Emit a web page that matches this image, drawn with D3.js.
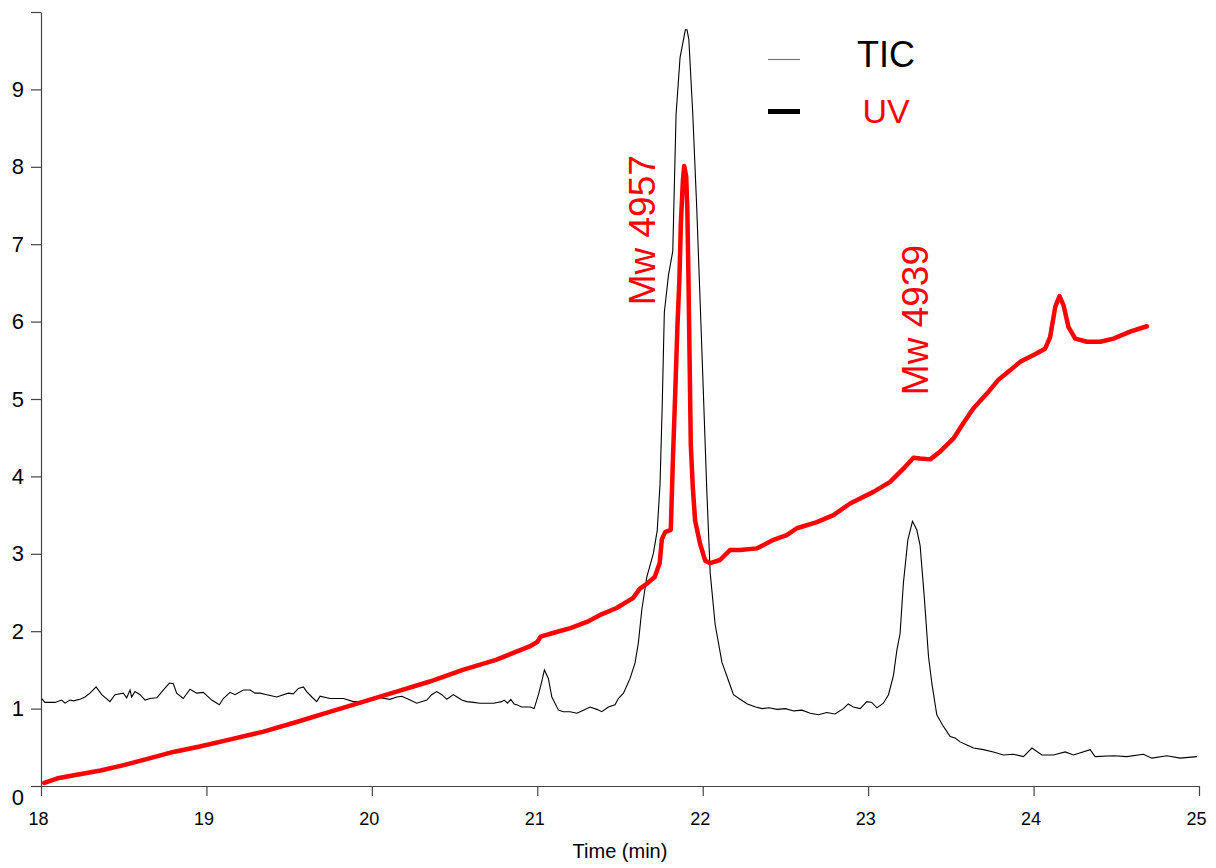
<!DOCTYPE html>
<html>
<head>
<meta charset="utf-8">
<script src="https://cdn.jsdelivr.net/npm/d3@7"></script>
<style>
  body { margin: 0; background: #fff; }
  text { font-family: Arial, "Liberation Sans", sans-serif; }
</style>
</head>
<body>
<div id="vis-container"></div>
<script>
// TIC trace (time in min, signal)
ticTime = [18.004,18.024,18.054,18.085,18.125,18.145,18.175,18.195,18.236,18.266,18.296,18.333,18.367,18.417,18.447,18.498,18.518,18.538,18.548,18.568,18.599,18.629,18.659,18.700,18.739,18.776,18.800,18.820,18.860,18.901,18.941,18.981,19.032,19.078,19.102,19.143,19.173,19.223,19.264,19.294,19.324,19.365,19.425,19.495,19.525,19.556,19.586,19.606,19.637,19.667,19.687,19.747,19.797,19.828,19.888,19.929,19.989,20.050,20.110,20.151,20.181,20.231,20.271,20.332,20.362,20.392,20.423,20.453,20.493,20.544,20.574,20.614,20.654,20.695,20.735,20.785,20.800,20.820,20.840,20.860,20.876,20.906,20.956,20.981,21.007,21.027,21.043,21.067,21.088,21.128,21.158,21.198,21.239,21.279,21.319,21.360,21.390,21.430,21.470,21.490,21.521,21.561,21.591,21.611,21.632,21.662,21.702,21.725,21.742,21.755,21.768,21.793,21.819,21.839,21.863,21.895,21.905,21.916,21.940,21.964,21.995,22.025,22.045,22.075,22.116,22.156,22.186,22.226,22.270,22.320,22.360,22.400,22.450,22.500,22.550,22.600,22.650,22.700,22.750,22.800,22.850,22.880,22.910,22.952,22.992,23.022,23.053,23.092,23.123,23.153,23.174,23.193,23.213,23.240,23.268,23.294,23.314,23.339,23.365,23.385,23.415,23.455,23.496,23.526,23.556,23.597,23.637,23.697,23.757,23.818,23.878,23.939,23.990,24.050,24.120,24.191,24.241,24.342,24.372,24.483,24.564,24.664,24.715,24.806,24.886,24.987];
ticSignal = [1.13,1.08,1.08,1.08,1.11,1.07,1.11,1.10,1.12,1.15,1.20,1.28,1.18,1.09,1.18,1.20,1.14,1.24,1.15,1.22,1.18,1.11,1.13,1.14,1.24,1.33,1.32,1.20,1.13,1.25,1.20,1.21,1.11,1.05,1.13,1.21,1.18,1.24,1.24,1.20,1.20,1.18,1.15,1.20,1.19,1.26,1.28,1.22,1.15,1.09,1.16,1.13,1.13,1.13,1.09,1.09,1.12,1.14,1.12,1.15,1.16,1.11,1.07,1.11,1.18,1.22,1.18,1.12,1.18,1.11,1.09,1.08,1.07,1.07,1.07,1.09,1.11,1.07,1.12,1.06,1.05,1.02,1.02,1.00,1.18,1.35,1.50,1.39,1.15,0.98,0.96,0.96,0.94,0.98,1.02,0.99,0.96,1.02,1.05,1.13,1.20,1.39,1.59,1.85,2.28,2.70,3.01,3.30,3.90,4.90,6.12,6.60,6.91,8.68,9.41,9.77,9.77,9.65,8.68,7.46,5.63,3.80,2.76,2.09,1.60,1.36,1.18,1.12,1.06,1.02,1.00,1.01,0.99,1.00,0.97,0.98,0.94,0.92,0.95,0.93,1.00,1.06,1.02,1.00,1.09,1.08,1.01,1.07,1.18,1.43,1.76,1.97,2.62,3.18,3.42,3.31,3.11,2.45,1.67,1.33,0.92,0.77,0.64,0.62,0.57,0.53,0.49,0.47,0.44,0.40,0.41,0.38,0.49,0.40,0.40,0.44,0.40,0.47,0.38,0.39,0.38,0.41,0.36,0.39,0.36,0.38];

// UV trace
uvTime = [18.02,18.10,18.20,18.36,18.50,18.66,18.80,18.96,19.12,19.34,19.55,19.75,19.95,20.15,20.35,20.55,20.75,20.95,21.00,21.02,21.10,21.20,21.30,21.38,21.48,21.58,21.62,21.66,21.71,21.74,21.753,21.773,21.807,21.819,21.833,21.847,21.859,21.868,21.880,21.888,21.900,21.907,21.914,21.920,21.928,21.940,21.954,21.984,22.015,22.045,22.105,22.166,22.226,22.327,22.428,22.508,22.569,22.690,22.790,22.891,23.032,23.133,23.213,23.274,23.314,23.375,23.435,23.516,23.576,23.637,23.718,23.788,23.858,23.919,24.000,24.070,24.100,24.131,24.157,24.181,24.211,24.252,24.322,24.403,24.483,24.584,24.685];
uvSignal = [0.04,0.10,0.14,0.20,0.27,0.36,0.44,0.51,0.59,0.70,0.83,0.96,1.09,1.22,1.35,1.50,1.63,1.80,1.86,1.93,1.98,2.04,2.12,2.21,2.30,2.43,2.55,2.61,2.70,2.88,3.19,3.28,3.31,4.16,5.02,5.93,6.54,7.27,7.82,8.01,7.88,7.46,6.54,5.63,4.41,3.86,3.43,3.13,2.91,2.88,2.92,3.05,3.05,3.07,3.18,3.24,3.33,3.41,3.50,3.65,3.80,3.93,4.10,4.24,4.23,4.22,4.32,4.49,4.69,4.88,5.07,5.25,5.37,5.48,5.57,5.65,5.80,6.19,6.33,6.21,5.93,5.78,5.74,5.74,5.78,5.87,5.94];

xTicks = [18,19,20,21,22,23,24,25]
yTicks = [0,1,2,3,4,5,6,7,8,9,10]

peakLabels = [
  {text: "Mw 4957", t: 21.712, v: 6.21},
  {text: "Mw 4939", t: 23.363, v: 5.05}
]

legendItems = [
  {name: "TIC", lineColor: "#777", lineWidth: 1.2, textColor: "#000", size: 36},
  {name: "UV", lineColor: "#000", lineWidth: 5, textColor: "#ff0000", size: 34}
]

chart = {
  width: 1216, height: 868,
  scale: {
    x: d3.scaleLinear().domain([18,25]).range([41,1199]),
    y: d3.scaleLinear().domain([0,10]).range([786,12])
  }
}

svg = d3.select("#vis-container").append("svg")
  .attr("width", chart.width).attr("height", chart.height)

x = chart.scale.x
y = chart.scale.y

// axes
xAxis = svg.append("g").attr("transform","translate(0," + y(0) + ")")
  .call(d3.axisBottom(x).tickValues(xTicks).tickSize(10).tickSizeOuter(0).tickPadding(16).tickFormat(d3.format("d")))
xAxis.selectAll("text").style("font-size","18px").attr("dx",-3).attr("fill","#000")

yAxis = svg.append("g").attr("transform","translate(" + x(18) + ",0)")
  .call(d3.axisLeft(y).tickValues(yTicks).tickSize(10).tickSizeOuter(0).tickPadding(7).tickFormat(d => d == 10 ? "" : d))
yAxis.selectAll("text").style("font-size","22px").attr("fill","#000")
yAxis.selectAll(".tick").filter(d => d == 0).select("text").attr("dy","0.85em")

svg.selectAll(".domain, .tick line").attr("stroke","#444").attr("stroke-width",1.2)

svg.append("text")
  .attr("x", (x(18) + x(25)) / 2).attr("y", 858)
  .attr("text-anchor","middle").style("font-size","20px")
  .text("Time (min)")

// traces
line = d3.line().x(d => x(d[0])).y(d => y(d[1]))

svg.append("path")
  .datum(ticTime.map((t,i) => [t, ticSignal[i]]))
  .attr("d", line)
  .attr("fill","none").attr("stroke","#000").attr("stroke-width",1.1)

svg.append("path")
  .datum(uvTime.map((t,i) => [t, uvSignal[i]]))
  .attr("d", line)
  .attr("fill","none").attr("stroke","#ff0000").attr("stroke-width",4.5)
  .attr("stroke-linejoin","round").attr("stroke-linecap","round")

// peak annotations, rotated
svg.selectAll(".peak-label")
  .data(peakLabels)
  .enter()
  .append("text")
  .attr("class","peak-label")
  .attr("transform", d => "translate(" + x(d.t) + "," + y(d.v) + ") rotate(-90)")
  .attr("fill","#ff0000")
  .style("font-size","37px")
  .text(d => d.text)

// legend
legend = svg.append("g")
legend.selectAll("line")
  .data(legendItems)
  .enter()
  .append("line")
  .attr("x1",768).attr("x2",800)
  .attr("y1",(d,i) => 59.5 + i * 52).attr("y2",(d,i) => 59.5 + i * 52)
  .attr("stroke",d => d.lineColor).attr("stroke-width",d => d.lineWidth)
legend.selectAll("text")
  .data(legendItems)
  .enter()
  .append("text")
  .attr("x",886).attr("y",(d,i) => 67 + i * 56)
  .attr("text-anchor","middle")
  .attr("fill",d => d.textColor)
  .style("font-size",d => d.size + "px")
  .text(d => d.name)
</script>
</body>
</html>
